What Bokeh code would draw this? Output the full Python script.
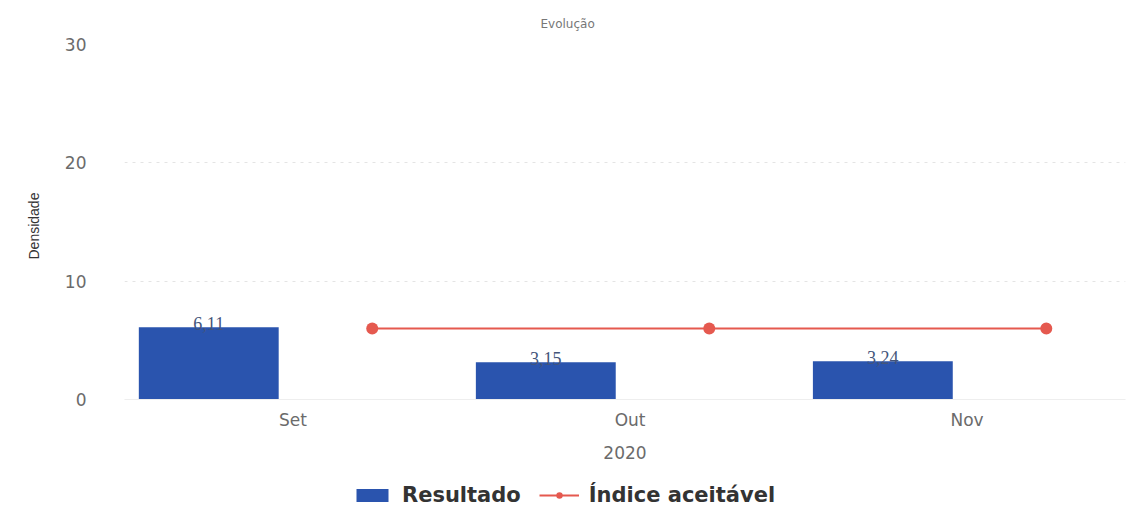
from bokeh.plotting import figure
from bokeh.models import (ColumnDataSource, Range1d, FixedTicker, Legend, LegendItem,
                          LabelSet, Title)
from bokeh.transform import dodge
from bokeh.embed import file_html
from bokeh.resources import INLINE

# ---- data ----
months = ["Set", "Out", "Nov"]
resultado = [6.11, 3.15, 3.24]
indice = [6, 6, 6]
year_label = "2020"
y_ticks = [0, 10, 20, 30]

xs = list(range(len(months)))
labels = [f"{v:.2f}".replace(".", ",") for v in resultado]
src = ColumnDataSource(dict(x=xs, month=months, resultado=resultado,
                            indice=indice, lab=labels))

BAR = "#2A54AE"
RED = "#E5594F"
GREY = "#6b6b6b"
FONT = "DejaVu Sans"

# frame extends below zero so the x axis (fixed at 0) and legend sit inside it
p = figure(frame_width=1001, frame_height=463, output_backend="svg", toolbar_location=None,
           x_range=Range1d(-0.5, 2.47), y_range=Range1d(-9.13, 30),
           min_border_left=124, min_border_right=3, min_border_top=43,
           min_border_bottom=0)
p.outline_line_color = None
p.background_fill_color = "white"

bars = p.vbar(x=dodge("x", -0.25), top="resultado", width=0.415, source=src,
              fill_color=BAR, line_color=None)
ln = p.line(x=dodge("x", 0.235), y="indice", source=src, line_color=RED, line_width=2)
pts = p.scatter(x=dodge("x", 0.235), y="indice", source=src, size=12,
                fill_color=RED, line_color=None)

lbl = LabelSet(x=dodge("x", -0.25), y="resultado", text="lab", source=src,
               text_align="center", text_baseline="bottom", y_offset=-3,
               text_font_size="18px", text_color="#44557a", text_font=FONT)
p.add_layout(lbl)

# axes
p.xaxis.fixed_location = 0
p.xaxis.ticker = FixedTicker(ticks=xs)
p.xaxis.major_label_overrides = {i: m for i, m in zip(xs, months)}
p.xaxis.axis_label = year_label
p.xaxis.axis_line_color = "#eeeeee"
p.xaxis.major_tick_line_color = None
p.xaxis.minor_tick_line_color = None
p.xaxis.major_label_text_font_size = "17px"
p.xaxis.major_label_text_color = GREY
p.xaxis.major_label_text_font = FONT
p.xaxis.major_label_standoff = 5
p.xaxis.axis_label_text_font_size = "17px"
p.xaxis.axis_label_text_color = GREY
p.xaxis.axis_label_text_font = FONT
p.xaxis.axis_label_text_font_style = "normal"
p.xaxis.axis_label_standoff = 12

p.yaxis.ticker = FixedTicker(ticks=y_ticks)
p.yaxis.axis_line_color = None
p.yaxis.major_tick_line_color = None
p.yaxis.minor_tick_line_color = None
p.yaxis.major_label_text_font_size = "17px"
p.yaxis.major_label_text_color = GREY
p.yaxis.major_label_text_font = FONT
p.yaxis.major_label_standoff = 32

ytitle = Title(text="Densidade", align="left", offset=248, text_font_size="14px",
               text_color="#333333", text_font="Liberation Sans Narrow, Liberation Sans",
               text_font_style="normal", standoff=40)
p.add_layout(ytitle, "left")

p.xgrid.grid_line_color = None
p.ygrid.grid_line_color = "#e4e4e4"
p.ygrid.grid_line_dash = "3 5"

# title
t = Title(text="Evolução", align="left", offset=416, text_font_size="12px",
          text_color="#777777", text_font=FONT, text_font_style="normal", standoff=28)
p.add_layout(t, "above")

legend = Legend(items=[LegendItem(label="Resultado", renderers=[bars]),
                       LegendItem(label="Índice aceitável", renderers=[ln, pts])],
                orientation="horizontal", location=(228, 0),
                glyph_width=40, glyph_height=16, spacing=18, label_standoff=10,
                label_text_font_size="21px", label_text_font_style="bold",
                label_text_color="#333333", label_text_font=FONT,
                border_line_color=None, background_fill_alpha=0,
                padding=0, margin=0)
p.add_layout(legend, "center")

open("out.html", "w").write(file_html(p, INLINE))
